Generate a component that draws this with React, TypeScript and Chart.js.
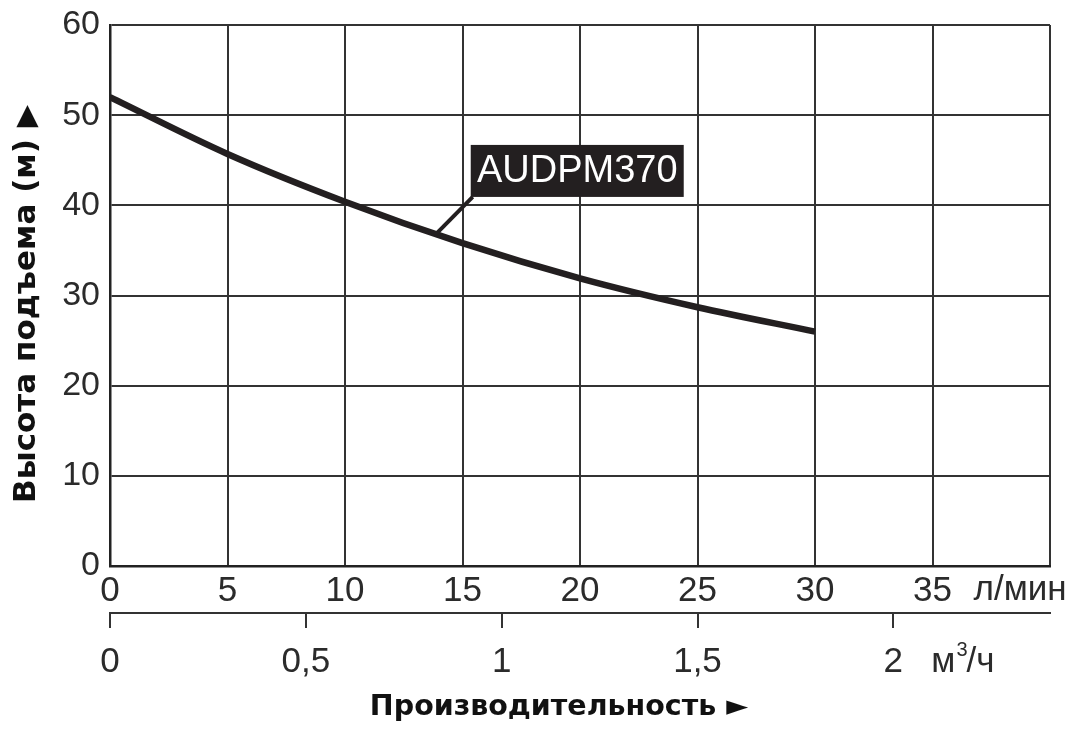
import React, { useEffect, useRef } from "react";
import { Chart, registerables } from "chart.js";

Chart.register(...registerables);

// Flow (l/min) and head (m)
const FLOW_LPM = [0, 5, 10, 15, 20, 25, 30];
const HEAD_M = [52.0, 45.7, 40.4, 35.8, 31.9, 28.7, 26.0];

const X_TICKS_LPM = [0, 5, 10, 15, 20, 25, 30, 35];
const X_MAX_LPM = 40;
const M3H_TICKS = [0, 0.5, 1, 1.5, 2];
const M3H_LABELS = ["0", "0,5", "1", "1,5", "2"];
const Y_MAX = 60;

const SERIES_NAME = "AUDPM370";
const Y_TITLE = "Высота подъема (м)";
const Y_ARROW = "▶";
const X_TITLE = "Производительность ►";
const UNIT_LPM = "л/мин";

// annotation anchor (data units)
const ANNOT_POINT = { x: 13.9, y: 36.9 };
const ANNOT_BOX = { x: 15.35, y: 46.7 };

const TICK_FONT = "'Liberation Sans', Arial, sans-serif";
const TITLE_FONT = "'DejaVu Sans', sans-serif";
const INK = "#2b2b2b";

export default function App() {
  const ref = useRef<HTMLCanvasElement | null>(null);

  useEffect(() => {
    if (!ref.current) return;
    const decor = {
      id: "decor",
      afterDraw(chart: any) {
        const ctx = chart.ctx;
        const xs = chart.scales.x;
        const x2 = chart.scales.x2;
        const ys = chart.scales.y;
        ctx.save();
        // unit labels
        ctx.fillStyle = INK;
        ctx.textBaseline = "middle";
        ctx.textAlign = "left";
        ctx.font = `35px ${TICK_FONT}`;
        const yTop = 590;
        ctx.fillText(UNIT_LPM, xs.getPixelForValue(35) + 41, yTop);
        let ux = x2.getPixelForValue(2) + 38;
        const yBot = 662;
        ctx.fillText("м", ux, yBot);
        ux += ctx.measureText("м").width + 1;
        ctx.font = `20px ${TICK_FONT}`;
        ctx.fillText("3", ux, yBot - 12);
        ux += ctx.measureText("3").width - 1;
        ctx.font = `35px ${TICK_FONT}`;
        ctx.fillText("/ч", ux, yBot);

        // titles
        ctx.fillStyle = "#111";
        ctx.font = `bold 28.5px ${TITLE_FONT}`;
        ctx.textAlign = "center";
        ctx.fillText(X_TITLE, 559, 708);

        ctx.save();
        ctx.translate(27, 0);
        ctx.rotate(-Math.PI / 2);
        ctx.font = `bold 31px ${TITLE_FONT}`;
        ctx.textAlign = "left";
        const startAlong = -503;
        ctx.fillText(Y_TITLE, startAlong, 0);
        const tw = ctx.measureText(Y_TITLE).width;
        ctx.font = `29px ${TITLE_FONT}`;
        ctx.fillText(Y_ARROW, startAlong + tw + 12, 0);
        ctx.restore();

        // annotation
        const px = xs.getPixelForValue(ANNOT_POINT.x);
        const py = ys.getPixelForValue(ANNOT_POINT.y);
        const bx = xs.getPixelForValue(ANNOT_BOX.x);
        const by = ys.getPixelForValue(ANNOT_BOX.y);
        const bw = 213;
        const bh = 52;
        ctx.strokeStyle = "#231f20";
        ctx.lineWidth = 4;
        ctx.beginPath();
        ctx.moveTo(px, py);
        ctx.lineTo(bx + 2, by + bh);
        ctx.stroke();
        ctx.fillStyle = "#231f20";
        ctx.fillRect(bx, by, bw, bh);
        ctx.fillStyle = "#ffffff";
        ctx.font = `38px ${TICK_FONT}`;
        ctx.textAlign = "center";
        ctx.textBaseline = "middle";
        ctx.fillText(SERIES_NAME, bx + bw / 2, by + bh / 2 + 1);
        ctx.restore();
      },
    };

    const chart = new Chart(ref.current, {
      type: "line",
      data: {
        datasets: [
          {
            label: SERIES_NAME,
            data: FLOW_LPM.map((x, i) => ({ x, y: HEAD_M[i] })),
            borderColor: "#231f20",
            borderWidth: 6.5,
            pointRadius: 0,
            tension: 0.4,
            cubicInterpolationMode: "monotone",
            fill: false,
            xAxisID: "x",
            yAxisID: "y",
          },
        ],
      },
      options: {
        animation: false,
        responsive: false,
        devicePixelRatio: 1,
        layout: { padding: { top: 25, right: 35, left: 0, bottom: 0 } },
        plugins: { legend: { display: false }, tooltip: { enabled: false } },
        scales: {
          x: {
            type: "linear",
            position: "bottom",
            min: 0,
            max: X_MAX_LPM,
            afterBuildTicks: (s: any) => {
              s.ticks = [...X_TICKS_LPM, X_MAX_LPM].map((v) => ({ value: v }));
            },
            afterFit: (s: any) => {
              s.height = 47;
              s.paddingLeft = 0;
              s.paddingRight = 0;
            },
            ticks: {
              autoSkip: false,
              maxRotation: 0,
              padding: 4,
              color: INK,
              font: { family: TICK_FONT, size: 35 },
              callback: (v: any) => (X_TICKS_LPM.includes(v) ? String(v) : ""),
            },
            grid: { color: "#333", lineWidth: 2, drawTicks: false, tickLength: 0 },
            border: { display: true, color: "#222", width: 2.5 },
          },
          x2: {
            type: "linear",
            position: "bottom",
            min: 0,
            max: (X_MAX_LPM * 60) / 1000,
            afterBuildTicks: (s: any) => {
              s.ticks = M3H_TICKS.map((v) => ({ value: v }));
            },
            afterFit: (s: any) => {
              s.height = 118;
              s.paddingLeft = 0;
              s.paddingRight = 0;
            },
            ticks: {
              autoSkip: false,
              maxRotation: 0,
              padding: 13,
              color: INK,
              font: { family: TICK_FONT, size: 35 },
              callback: (v: any) => {
                const i = M3H_TICKS.indexOf(v);
                return i >= 0 ? M3H_LABELS[i] : "";
              },
            },
            grid: { drawOnChartArea: false, drawTicks: true, tickLength: 15, color: "#333", lineWidth: 2 },
            border: { display: true, color: "#333", width: 2 },
          },
          y: {
            type: "linear",
            min: 0,
            max: Y_MAX,
            afterFit: (s: any) => {
              s.width = 110;
              s.paddingTop = 0;
              s.paddingBottom = 0;
            },
            ticks: {
              stepSize: 10,
              padding: 10,
              color: INK,
              font: { family: TICK_FONT, size: 34 },
            },
            grid: { color: "#333", lineWidth: 2, drawTicks: false, tickLength: 0 },
            border: { display: true, color: "#222", width: 2.5 },
          },
        },
      },
      plugins: [decor],
    });
    return () => chart.destroy();
  }, []);

  return (
    <div style={{ position: "absolute", left: 0, top: 0, width: 1085, height: 731, background: "#fff" }}>
      <canvas ref={ref} width={1085} height={731} style={{ width: 1085, height: 731 }} />
    </div>
  );
}
